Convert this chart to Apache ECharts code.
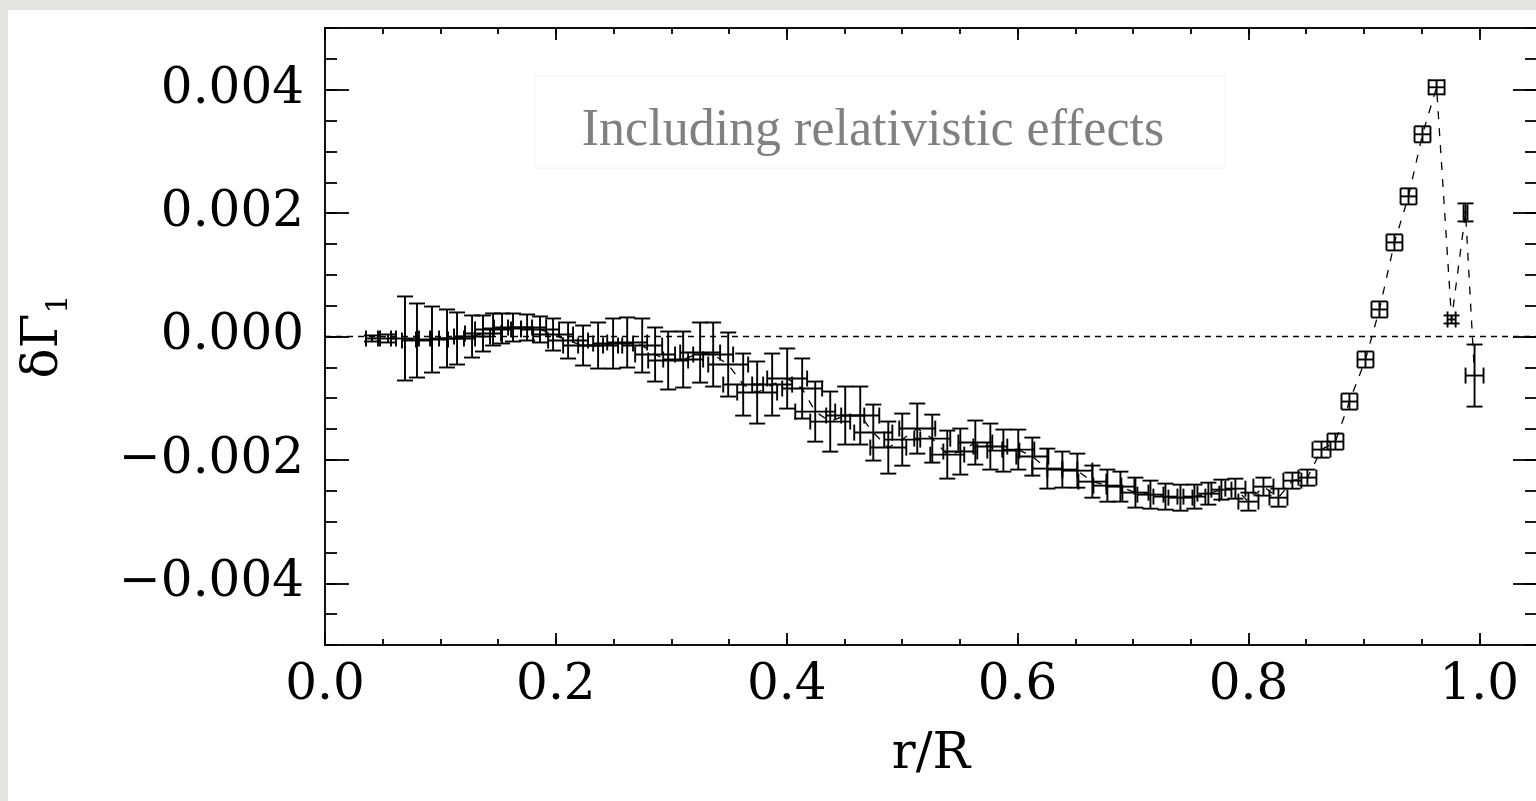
<!DOCTYPE html>
<html>
<head>
<meta charset="utf-8">
<script src="https://cdn.jsdelivr.net/npm/echarts@6.0.0/dist/echarts.min.js"></script>
<style>
html,body{margin:0;padding:0;background:#fff;}
#c{width:1536px;height:801px;}
</style>
</head>
<body>
<div id="c"></div>
<script>
// r/R positions
const rx = [0.0407,0.0546,0.0693,0.0797,0.0927,0.1057,0.1144,0.1274,0.1369,0.1456,
  0.1534,0.1629,0.1751,0.1863,0.1976,0.2106,0.2236,0.2366,0.2496,0.2618,
  0.2748,0.2860,0.2973,0.3103,0.3250,0.3363,0.3493,0.3623,0.3744,0.3874,
  0.4004,0.4134,0.4247,0.4377,0.4507,0.4637,0.4750,0.4880,0.5001,0.5131,
  0.5261,0.5391,0.5504,0.5634,0.5764,0.5877,0.6006,0.6128,0.6258,0.6388,
  0.6518,0.6648,0.6778,0.6891,0.7021,0.7151,0.7281,0.7411,0.7532,0.7653,
  0.7766,0.7887,0.8000,0.8130,0.8260,0.8381,0.8511,0.8633,0.8754,0.8875,
  0.9014,0.9135,0.9265,0.9387,0.9508,0.9630,0.9760,0.9881,0.9959];
// delta Gamma_1 values
const dG = [-0.000032,-0.000032,-0.000032,-0.000065,-0.000049,-0.000032,-0.000032,0.000000,0.000049,0.000114,
  0.000130,0.000146,0.000146,0.000114,0.000032,-0.000065,-0.000146,-0.000146,-0.000114,-0.000097,
  -0.000146,-0.000292,-0.000389,-0.000373,-0.000260,-0.000292,-0.000454,-0.000779,-0.000908,-0.000779,
  -0.000681,-0.000843,-0.001217,-0.001379,-0.001281,-0.001281,-0.001557,-0.001800,-0.001671,-0.001492,
  -0.001655,-0.001914,-0.001865,-0.001719,-0.001784,-0.001849,-0.001833,-0.001946,-0.002141,-0.002157,
  -0.002174,-0.002352,-0.002417,-0.002433,-0.002530,-0.002563,-0.002595,-0.002612,-0.002595,-0.002547,
  -0.002482,-0.002466,-0.002676,-0.002433,-0.002612,-0.002336,-0.002287,-0.001833,-0.001703,-0.001054,
  -0.000373,0.000438,0.001525,0.002271,0.003277,0.004039,0.000276,0.002011,-0.000633];
// horizontal half-widths (resolution)
const ex = [0.0052,0.0069,0.0121,0.0130,0.0139,0.0147,0.0156,0.0156,0.0156,0.0156,
  0.0165,0.0165,0.0165,0.0165,0.0173,0.0173,0.0173,0.0173,0.0173,0.0173,
  0.0173,0.0173,0.0173,0.0173,0.0173,0.0173,0.0173,0.0173,0.0173,0.0173,
  0.0173,0.0173,0.0173,0.0173,0.0165,0.0165,0.0165,0.0156,0.0156,0.0156,
  0.0156,0.0147,0.0147,0.0147,0.0147,0.0139,0.0139,0.0139,0.0130,0.0130,
  0.0130,0.0121,0.0121,0.0121,0.0113,0.0113,0.0104,0.0104,0.0095,0.0095,
  0.0087,0.0087,0.0087,0.0087,0.0078,0.0078,0.0078,0.0078,0.0069,0.0069,
  0.0069,0.0069,0.0069,0.0069,0.0069,0.0069,0.0035,0.0017,0.0078];
// vertical half-errors
const ey = [0.000049,0.000065,0.000681,0.000600,0.000535,0.000470,0.000422,0.000341,0.000292,0.000260,
  0.000243,0.000227,0.000211,0.000211,0.000260,0.000292,0.000324,0.000373,0.000406,0.000406,
  0.000438,0.000438,0.000470,0.000454,0.000487,0.000519,0.000519,0.000503,0.000503,0.000503,
  0.000487,0.000487,0.000487,0.000487,0.000470,0.000470,0.000454,0.000422,0.000422,0.000406,
  0.000389,0.000389,0.000373,0.000357,0.000373,0.000341,0.000324,0.000308,0.000324,0.000292,
  0.000276,0.000260,0.000260,0.000243,0.000243,0.000227,0.000211,0.000211,0.000195,0.000178,
  0.000162,0.000162,0.000146,0.000146,0.000146,0.000130,0.000130,0.000130,0.000130,0.000130,
  0.000130,0.000130,0.000130,0.000130,0.000130,0.000114,0.000065,0.000146,0.000503];

const xMajor = [0, 0.2, 0.4, 0.6, 0.8, 1.0];
const yMajor = [-0.004, -0.002, 0, 0.002, 0.004];
const xTickLabels = ['0.0', '0.2', '0.4', '0.6', '0.8', '1.0'];
const yTickLabels = ['\u22120.004', '\u22120.002', '0.000', '0.002', '0.004'];

const serif = 'DejaVu Serif';
const tickStyle = {color: '#000', width: 1.8};

function xAx(pos, major) {
  const a = {
    type: 'value', min: 0, max: 1.05, position: pos, gridIndex: 0,
    axisLine: {show: false, onZero: false},
    splitLine: {show: false},
    axisTick: {show: true, inside: true, length: major ? 12 : 6, lineStyle: tickStyle},
    axisLabel: {show: false}
  };
  if (major) {
    a.axisTick.customValues = xMajor;
    if (pos === 'bottom') {
      a.axisLabel = {show: true, customValues: xMajor, margin: 16,
        formatter: v => xTickLabels[xMajor.findIndex(m => Math.abs(m - v) < 1e-9)] || '',
        fontFamily: serif, fontSize: 50, color: '#000'};
      a.name = 'r/R';
      a.nameLocation = 'middle';
      a.nameGap = 82;
      a.nameTextStyle = {fontFamily: serif, fontSize: 50, color: '#000', lineHeight: 56};
    }
  } else {
    a.interval = 0.05;
  }
  return a;
}
function yAx(pos, major) {
  const a = {
    type: 'value', min: -0.005, max: 0.005, position: pos, gridIndex: 0,
    axisLine: {show: false, onZero: false},
    splitLine: {show: false},
    axisTick: {show: true, inside: true, length: major ? 24 : 12, lineStyle: tickStyle},
    axisLabel: {show: false}
  };
  if (major) {
    a.axisTick.customValues = yMajor;
    if (pos === 'left') {
      a.axisLabel = {show: true, customValues: yMajor, margin: 21,
        formatter: v => yTickLabels[yMajor.findIndex(m => Math.abs(m - v) < 1e-9)] || '',
        fontFamily: serif, fontSize: 50, color: '#000'};
      a.name = '{a|\u03b4\u0393}{b|1}';
      a.nameLocation = 'middle';
      a.nameGap = 251;
      a.nameTextStyle = {rich: {
        a: {fontFamily: serif, fontSize: 50, lineHeight: 60, color: '#000'},
        b: {fontFamily: serif, fontSize: 30, lineHeight: 14, verticalAlign: 'bottom', color: '#000'}
      }};
    }
  } else {
    a.interval = 0.0005;
  }
  return a;
}

function renderErr(params, api) {
  const x = api.value(0), y = api.value(1), dx = api.value(2), dy = api.value(3);
  const c = api.coord([x, y]);
  const l = api.coord([x - dx, y]);
  const r = api.coord([x + dx, y]);
  const t = api.coord([x, y + dy]);
  const b = api.coord([x, y - dy]);
  const cap = 8;
  const st = {stroke: '#000', lineWidth: 1.9, fill: null};
  const ln = (x1, y1, x2, y2) => ({type: 'line', shape: {x1, y1, x2, y2}, style: st});
  return {type: 'group', children: [
    ln(l[0], c[1], r[0], c[1]),
    ln(l[0], c[1] - cap, l[0], c[1] + cap),
    ln(r[0], c[1] - cap, r[0], c[1] + cap),
    ln(c[0], t[1], c[0], b[1]),
    ln(c[0] - cap, t[1], c[0] + cap, t[1]),
    ln(c[0] - cap, b[1], c[0] + cap, b[1])
  ]};
}

const chart = echarts.init(document.getElementById('c'), null, {renderer: 'canvas'});
chart.setOption({
  backgroundColor: '#ffffff',
  animation: false,
  grid: {left: 325, top: 28, width: 1212, height: 617, show: true,
    borderColor: '#111', borderWidth: 2, backgroundColor: '#fff', outerBoundsMode: 'none'},
  xAxis: [xAx('bottom', true), xAx('top', true), xAx('bottom', false), xAx('top', false)],
  yAxis: [yAx('left', true), yAx('right', true), yAx('left', false), yAx('right', false)],
  graphic: [
    {type: 'rect', shape: {x: 0, y: 0, width: 1536, height: 10}, style: {fill: '#e3e3df'}, z: 100},
    {type: 'rect', shape: {x: 0, y: 0, width: 8, height: 801}, style: {fill: '#e3e3df'}, z: 100},
    {type: 'rect', shape: {x: 535, y: 76, width: 690, height: 92}, style: {fill: '#fff', stroke: '#f2f2f2', lineWidth: 1}, z: 5},
    {type: 'text', x: 873, y: 131, z: 6,
      style: {text: 'Including relativistic effects', fontFamily: 'Liberation Serif', fontSize: 52,
        fill: '#808080', align: 'center', verticalAlign: 'middle'}}
  ],
  series: [
    {
      type: 'line', xAxisIndex: 0, yAxisIndex: 0, z: 2,
      data: rx.map((x, i) => [x, dG[i]]),
      showSymbol: false, symbol: 'none',
      lineStyle: {color: '#000', width: 1.3, type: [8, 9]},
      markLine: {
        silent: true, symbol: ['none', 'none'], label: {show: false},
        lineStyle: {color: '#000', width: 1.3, type: [6, 5]},
        data: [{yAxis: 0}]
      }
    },
    {
      type: 'custom', xAxisIndex: 0, yAxisIndex: 0, z: 3,
      renderItem: renderErr,
      encode: {x: 0, y: 1},
      data: rx.map((x, i) => [x, dG[i], ex[i], ey[i]])
    }
  ]
});
</script>
</body>
</html>
